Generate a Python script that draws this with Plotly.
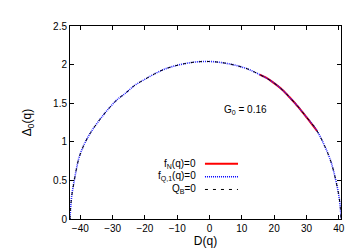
import plotly.graph_objects as go

# gap curve Delta_0(q) vs D(q)
d_vals = [-43.2, -43.0, -42.6, -42.0, -41.3, -40.5, -39.5, -38.3, -36.8, -35.0,
          -33.0, -31.0, -28.5, -26.0, -23.2, -20.0, -17.0, -14.0, -11.0, -8.0,
          -4.0, 0.0, 3.0, 6.0, 9.0, 12.0, 16.0, 19.0, 22.1, 24.7,
          27.3, 30.0, 33.0, 35.6, 37.6, 39.1, 40.0, 40.5, 40.7]
delta_vals = [0.0, 0.15, 0.32, 0.47, 0.63, 0.78, 0.90, 1.01, 1.12, 1.23,
              1.34, 1.44, 1.55, 1.63, 1.73, 1.81, 1.88, 1.94, 1.98, 2.01,
              2.035, 2.04, 2.03, 2.01, 1.98, 1.94, 1.86, 1.79, 1.69, 1.58,
              1.46, 1.32, 1.16, 0.95, 0.74, 0.50, 0.31, 0.15, 0.0]

# f_N(q)=0 branch (only partial)
d_fn = [15.5, 17.5, 19.0, 22.1, 24.7, 27.3, 30.0, 33.3]
delta_fn = [1.87, 1.83, 1.79, 1.69, 1.58, 1.46, 1.32, 1.14]

legend_names = ["f<sub>N</sub>(q)=0", "f<sub>Q,1</sub>(q)=0", "Q<sub>B</sub>=0"]
legend_colors = ["#ff0000", "#0000ff", "#000000"]
legend_dash = ["solid", "1px,1px", "3px,5px"]
legend_width = [2, 1.5, 1]

fig = go.Figure()
fig.add_trace(go.Scatter(x=d_fn, y=delta_fn, mode="lines", line_shape="spline",
                         line=dict(color="#ff0000", width=2)))
fig.add_trace(go.Scatter(x=d_vals, y=delta_vals, mode="lines", line_shape="spline",
                         line=dict(color="#1f1fff", width=1.6, dash="1px,1px")))
fig.add_trace(go.Scatter(x=d_vals, y=delta_vals, mode="lines", line_shape="spline",
                         line=dict(color="#000000", width=1, dash="3px,5px")))

# gnuplot-style legend: text on the left, sample on the right
legend_y = [0.286, 0.219, 0.153]
for name, c, dsh, w, ly in zip(legend_names, legend_colors, legend_dash, legend_width, legend_y):
    fig.add_annotation(text=name, x=0.472, y=ly, xref="paper", yref="paper",
                       xanchor="right", yanchor="middle", showarrow=False,
                       font=dict(size=10, color="black"))
    fig.add_shape(type="line", xref="paper", yref="paper", x0=0.498, x1=0.62,
                  y0=ly, y1=ly, line=dict(color=c, dash=dsh, width=w))

fig.add_annotation(text="G<sub>0</sub> = 0.16", x=0.649, y=0.566, xref="paper", yref="paper",
                   showarrow=False, font=dict(size=10, color="black"))

fig.update_layout(
    width=354, height=248,
    margin=dict(l=62, r=21, t=15, b=37),
    paper_bgcolor="white", plot_bgcolor="white",
    showlegend=False,
    font=dict(family="Liberation Sans, Arial, sans-serif", size=10, color="black"),
)
fig.update_xaxes(range=[-43.2, 40.7], tickvals=[-40, -30, -20, -10, 0, 10, 20, 30, 40],
                 showgrid=False, zeroline=False, showline=True, linecolor="black", linewidth=1,
                 mirror="ticks", ticks="inside", ticklen=4, tickcolor="black",
                 title=dict(text="D(q)", standoff=2))
fig.update_yaxes(range=[0, 2.5], tickvals=[0, 0.5, 1, 1.5, 2, 2.5],
                 showgrid=False, zeroline=False, showline=True, linecolor="black", linewidth=1,
                 mirror="ticks", ticks="inside", ticklen=4, tickcolor="black",
                 title=dict(text="Δ<sub>0</sub>(q)", standoff=18))

fig.write_html("out.html")
